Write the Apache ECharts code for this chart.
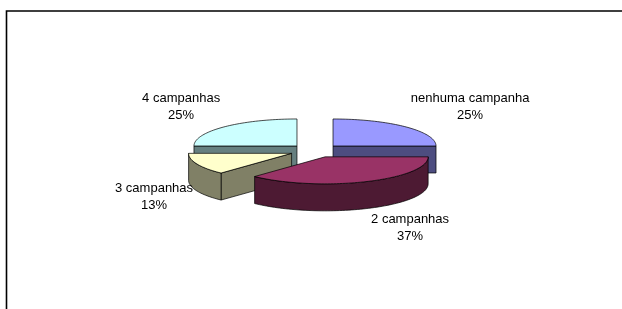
<!DOCTYPE html>
<html>
<head>
<meta charset="utf-8">
<script src="https://cdn.jsdelivr.net/npm/echarts@6/dist/echarts.min.js"></script>
<style>
html, body { margin: 0; padding: 0; background: #fff; }
#chart { width: 622px; height: 309px; }
</style>
</head>
<body>
<div id="chart"></div>
<script>
// dados do gráfico
var categorias = ["nenhuma campanha", "2 campanhas", "3 campanhas", "4 campanhas"];
var valores = [25, 37, 13, 25];

// cores (topo / lateral)
var coresTopo = ["#9999FF", "#993366", "#FFFFCC", "#CCFFFF"];
var coresLado = ["#4D4D80", "#4D1A33", "#808066", "#668080"];

// geometria da pizza 3D
var CX = 315, CY = 150.7;   // centro
var RX = 103, RY = 27;      // raios da elipse
var ALTURA = 27;            // espessura
var EXPL = 25.5;            // afastamento das fatias
var FONTE = '13px "Liberation Sans", Arial, sans-serif';

var total = valores.reduce(function (a, b) { return a + b; }, 0);
var inicio = [];
var acc = 0;
valores.forEach(function (v) {
  inicio.push(acc / total * 2 * Math.PI);
  acc += v;
});

// ordem de desenho: de trás para frente
var ordem = valores.map(function (v, i) {
  var mid = inicio[i] + v / total * Math.PI;
  return { i: i, k: -Math.cos(mid) };
}).sort(function (a, b) { return a.k - b.k; });
var rank = [];
ordem.forEach(function (o, r) { rank[o.i] = r; });

var ctx = document.createElement("canvas").getContext("2d");
ctx.font = FONTE;
function largura(s) {
  return Math.max.apply(null, s.split("\n").map(function (l) { return ctx.measureText(l).width; }));
}

function renderItem(params, api) {
  var i = params.dataIndex;
  var v = api.value(0);
  var a1 = inicio[i];
  var a2 = a1 + v / total * 2 * Math.PI;
  var mid = (a1 + a2) / 2;
  var cx = CX + EXPL * Math.sin(mid);
  var cy = CY - EXPL * (RY / RX) * Math.cos(mid);

  function pt(t, dy) {
    return [cx + RX * Math.sin(t), cy - RY * Math.cos(t) + (dy || 0)];
  }
  function arco(t1, t2, dy) {
    var n = Math.max(2, Math.ceil(Math.abs(t2 - t1) / 0.03));
    var p = [];
    for (var k = 0; k <= n; k++) p.push(pt(t1 + (t2 - t1) * k / n, dy));
    return p;
  }

  var base = rank[i] * 10;
  var contorno = { stroke: "#000", lineWidth: 0.7 };
  var filhos = [];
  function face(pts, cor, z) {
    filhos.push({
      type: "polygon",
      z2: base + z,
      shape: { points: pts },
      style: { fill: cor, stroke: contorno.stroke, lineWidth: contorno.lineWidth }
    });
  }

  // face de corte inicial
  if (Math.sin(a1) < -1e-6) {
    face([[cx, cy], pt(a1), pt(a1, ALTURA), [cx, cy + ALTURA]], coresLado[i], 1);
  }
  // face de corte final
  if (Math.sin(a2) > 1e-6) {
    face([[cx, cy], pt(a2), pt(a2, ALTURA), [cx, cy + ALTURA]], coresLado[i], 1);
  }
  // lateral curva (metade da frente)
  var t1 = Math.max(a1, Math.PI / 2);
  var t2 = Math.min(a2, Math.PI * 1.5);
  if (t2 > t1) {
    var lado = arco(t1, t2, 0).concat(arco(t2, t1, ALTURA));
    face(lado, coresLado[i], 2);
  }
  // topo
  face([[cx, cy]].concat(arco(a1, a2, 0)), coresTopo[i], 3);

  // rótulo
  var texto = categorias[i] + "\n" + Math.round(v / total * 100) + "%";
  var w = largura(texto);
  var s = Math.sin(mid), c = Math.cos(mid);
  var ex = cx + RX * s;
  var ey = cy - RY * c;
  var lx = s > 0 ? ex + 5 + w / 2 : ex - 4 - w / 2;
  var ly, va;
  if (c > 0) {
    ly = ey - 3;
    va = "bottom";
  } else {
    ly = ey - ALTURA * c + 5;
    va = "top";
  }
  filhos.push({
    type: "text",
    z2: 100,
    x: lx,
    y: ly,
    style: {
      text: texto,
      font: FONTE,
      fill: "#000",
      align: "center",
      verticalAlign: va,
      lineHeight: 17
    }
  });

  return { type: "group", children: filhos };
}

var chart = echarts.init(document.getElementById("chart"));
chart.setOption({
  animation: false,
  backgroundColor: "#fff",
  graphic: [{
    type: "rect",
    shape: { x: 6.5, y: 11, width: 800, height: 500 },
    style: { fill: "none", stroke: "#000", lineWidth: 1.6 }
  }],
  series: [{
    type: "custom",
    coordinateSystem: "none",
    renderItem: renderItem,
    data: valores.map(function (v, i) { return { name: categorias[i], value: [v] }; })
  }]
});
</script>
</body>
</html>
